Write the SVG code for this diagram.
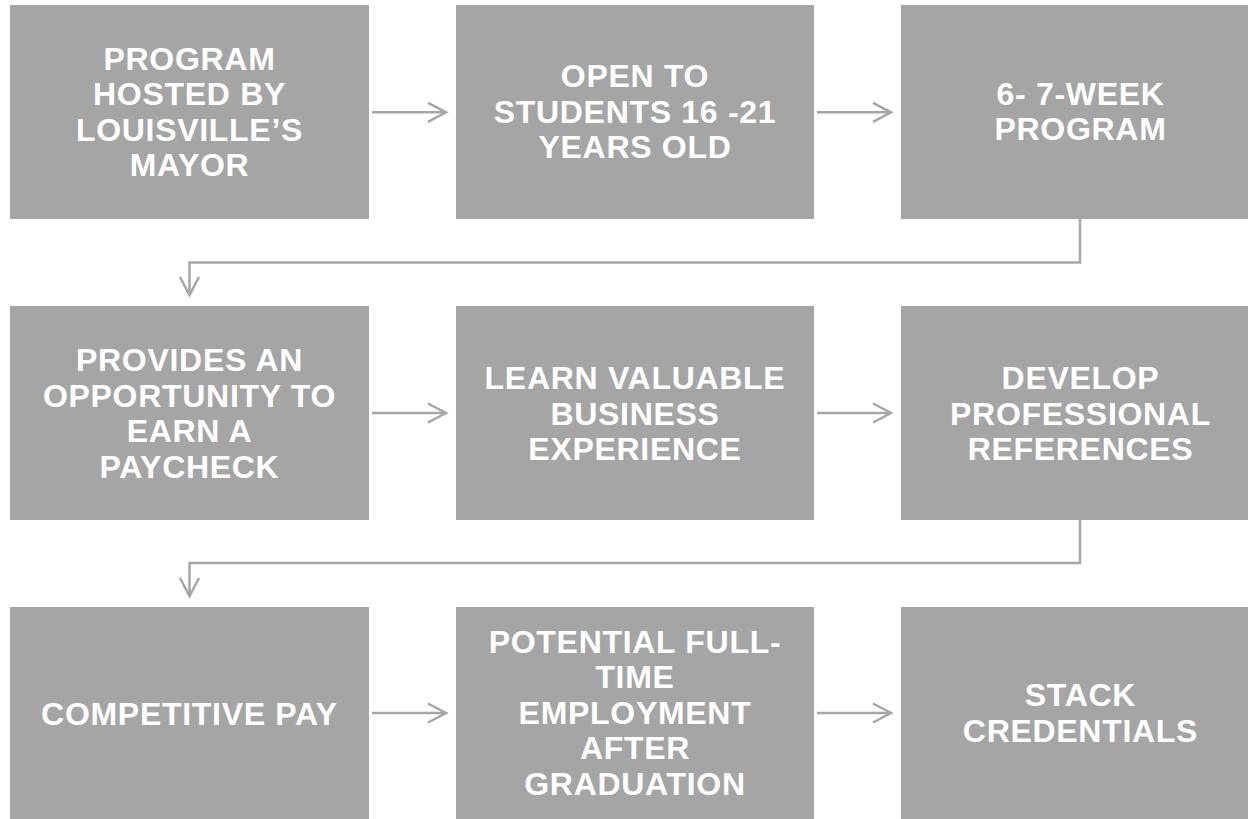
<svg xmlns="http://www.w3.org/2000/svg" width="1248" height="819" viewBox="0 0 1248 819">
  <style>
    .box { fill: #a5a5a5; }
    .lbl { fill: #ffffff; font-family: "Liberation Sans", Arial, sans-serif; font-weight: bold; font-size: 32px; letter-spacing: 0.7px; text-anchor: middle; }
    .conn { fill: none; stroke: #a6a6a6; stroke-width: 2.5; }
  </style>
  <defs>
    <marker id="chev" markerUnits="userSpaceOnUse" markerWidth="24" markerHeight="24" viewBox="-21 -12 24 24" refX="0" refY="0" orient="auto">
      <path d="M-18,-9.5 L0,0 L-18,9.5" fill="none" stroke="#a6a6a6" stroke-width="2.5"/>
    </marker>
  </defs>

  <rect width="1248" height="819" fill="#ffffff"/>

  <!-- row 1 -->
  <g id="n-hosted">
    <rect class="box" x="10" y="5" width="359" height="214"/>
    <text class="lbl" x="189.5"><tspan x="189.5" y="69.8">PROGRAM</tspan><tspan x="189.5" y="105.3">HOSTED BY</tspan><tspan x="189.5" y="140.8">LOUISVILLE’S</tspan><tspan x="189.5" y="176.3">MAYOR</tspan></text>
  </g>
  <g id="n-open">
    <rect class="box" x="456" y="5" width="358" height="214"/>
    <text class="lbl" x="635"><tspan x="635" y="87">OPEN TO</tspan><tspan x="635" y="122.5">STUDENTS 16 -21</tspan><tspan x="635" y="158">YEARS OLD</tspan></text>
  </g>
  <g id="n-weeks">
    <rect class="box" x="901" y="5" width="359" height="214"/>
    <text class="lbl" x="1080.5"><tspan x="1080.5" y="104.5">6- 7-WEEK</tspan><tspan x="1080.5" y="140">PROGRAM</tspan></text>
  </g>

  <!-- row 2 -->
  <g id="n-paycheck">
    <rect class="box" x="10" y="306" width="359" height="214"/>
    <text class="lbl" x="189.5"><tspan x="189.5" y="371">PROVIDES AN</tspan><tspan x="189.5" y="406.5">OPPORTUNITY TO</tspan><tspan x="189.5" y="442">EARN A</tspan><tspan x="189.5" y="477.5">PAYCHECK</tspan></text>
  </g>
  <g id="n-experience">
    <rect class="box" x="456" y="306" width="358" height="214"/>
    <text class="lbl" x="635"><tspan x="635" y="389">LEARN VALUABLE</tspan><tspan x="635" y="424.5">BUSINESS</tspan><tspan x="635" y="460">EXPERIENCE</tspan></text>
  </g>
  <g id="n-references">
    <rect class="box" x="901" y="306" width="359" height="214"/>
    <text class="lbl" x="1080.5"><tspan x="1080.5" y="389">DEVELOP</tspan><tspan x="1080.5" y="424.5">PROFESSIONAL</tspan><tspan x="1080.5" y="460">REFERENCES</tspan></text>
  </g>

  <!-- row 3 -->
  <g id="n-pay">
    <rect class="box" x="10" y="607" width="359" height="214"/>
    <text class="lbl" x="189.5" y="725">COMPETITIVE PAY</text>
  </g>
  <g id="n-employment">
    <rect class="box" x="456" y="607" width="358" height="214"/>
    <text class="lbl" x="635"><tspan x="635" y="652.5">POTENTIAL FULL-</tspan><tspan x="635" y="688">TIME</tspan><tspan x="635" y="723.5">EMPLOYMENT</tspan><tspan x="635" y="759">AFTER</tspan><tspan x="635" y="794.5">GRADUATION</tspan></text>
  </g>
  <g id="n-credentials">
    <rect class="box" x="901" y="607" width="359" height="214"/>
    <text class="lbl" x="1080.5"><tspan x="1080.5" y="706">STACK</tspan><tspan x="1080.5" y="741.5">CREDENTIALS</tspan></text>
  </g>

  <!-- connectors -->
  <g id="connectors">
    <path class="conn" d="M372,112.3 H446" marker-end="url(#chev)"/>
    <path class="conn" d="M817,112.3 H891" marker-end="url(#chev)"/>
    <path class="conn" d="M1080,219 V262.5 H189.5 V295" marker-end="url(#chev)"/>
    <path class="conn" d="M372,413 H446" marker-end="url(#chev)"/>
    <path class="conn" d="M817,413 H891" marker-end="url(#chev)"/>
    <path class="conn" d="M1080,520 V563 H189.5 V596" marker-end="url(#chev)"/>
    <path class="conn" d="M372,713 H446" marker-end="url(#chev)"/>
    <path class="conn" d="M817,713 H891" marker-end="url(#chev)"/>
  </g>
</svg>
